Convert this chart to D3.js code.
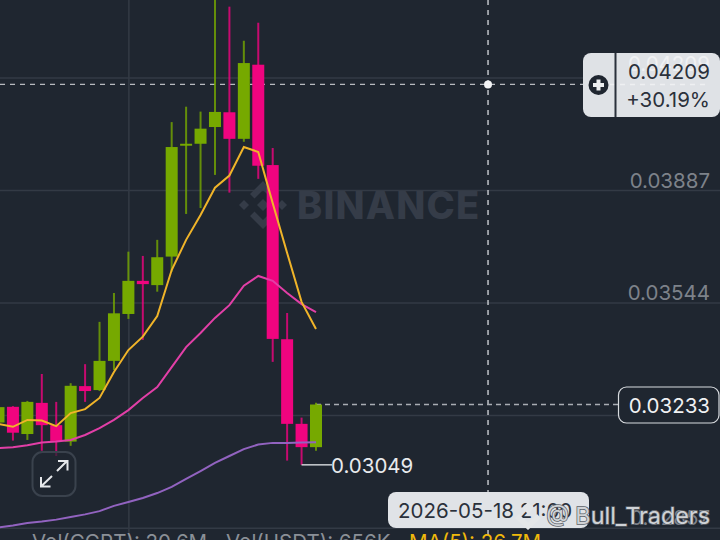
<!DOCTYPE html>
<meta charset="utf-8">
<style>
    html, body{ margin: 0; padding: 0; background: #1f2630; }
    svg{ display: block; }
    text{ font-family: Inter, "Open Sans", sans-serif; }
</style>
<script src="https://d3js.org/d3.v7.min.js"></script>
<body>
<div id="chart"></div>
<script>
    // candles, oldest first
    var opens  = [0.03178,0.03226,0.03143,0.03238,0.03170,0.03120,0.03289,0.03277,0.03366,0.03509,0.03610,0.03597,0.03684,0.04022,0.04028,0.04079,0.04124,0.04043,0.04269,0.03963,0.03432,0.03174,0.03103];
    var highs  = [0.03228,0.03228,0.03244,0.03326,0.03241,0.03298,0.03356,0.03485,0.03573,0.03699,0.03686,0.03735,0.04094,0.04141,0.04126,0.04527,0.04446,0.04342,0.04397,0.04015,0.03512,0.03193,0.03238];
    var lows   = [0.03170,0.03123,0.03125,0.03092,0.03076,0.03107,0.03241,0.03274,0.03338,0.03494,0.03430,0.03577,0.03638,0.03814,0.03832,0.03933,0.03879,0.04034,0.03921,0.03363,0.03062,0.03049,0.03092];
    var closes = [0.03225,0.03147,0.03241,0.03170,0.03122,0.03290,0.03274,0.03366,0.03511,0.03610,0.03600,0.03682,0.04018,0.04028,0.04074,0.04125,0.04043,0.04274,0.03961,0.03433,0.03174,0.03103,0.03233];

    var ma5  = [0.03174,0.03165,0.03186,0.03184,0.03167,0.03207,0.03219,0.03253,0.03332,0.03399,0.03440,0.03503,0.03643,0.03735,0.03811,0.03894,0.03931,0.04018,0.04003,0.03847,0.03695,0.03546,0.03463];
    var ma10 = [0.03100,0.03103,0.03109,0.03117,0.03120,0.03125,0.03140,0.03161,0.03186,0.03216,0.03253,0.03286,0.03347,0.03408,0.03451,0.03497,0.03536,0.03595,0.03625,0.03610,0.03573,0.03539,0.03515];
    var ma30 = [0.02858,0.02864,0.02872,0.02876,0.02882,0.02890,0.02898,0.02908,0.02924,0.02936,0.02948,0.02963,0.02982,0.03006,0.03030,0.03055,0.03076,0.03097,0.03111,0.03116,0.03116,0.03117,0.03118];

    var priceTicks = [0.04230,0.03887,0.03544,0.03201,0.02857];
    var priceLabels = ["", "0.03887", "0.03544", "", "0.02857"];
    var timeTicks = [9];

    var crossPrice = 0.04209, crossIndex = 33.92, crossPct = "+30.19%";
    var lastPrice = 0.03233, lowPrice = 0.03049, lowIndex = 21;
    var crossDate = "2026-05-18 21:00";
    var volLegend = [
        {t: "Vol(CGPT): 20.6M", c: "#8b9097"},
        {t: "Vol(USDT): 656K", c: "#8b9097"},
        {t: "MA(5): 26.7M", c: "#f0b90b"}
    ];

    var width = 720, height = 540;
    var up = "#76a900", down = "#f0047f", grid = "#333a45", bg = "#1f2630";

    var svg = d3.select("#chart").append("svg")
        .attr("width", width).attr("height", height)
        .style("background-color", bg);

    var x = d3.scaleLinear().domain([0, 22]).range([-1.5, 316]);
    var y = d3.scaleLinear().domain([0.03887, 0.03544]).range([190, 302.5]);

    // grid
    var yAxis = d3.axisRight(y).tickValues(priceTicks).tickSize(width)
        .tickFormat(function(d, i){ return priceLabels[i]; });
    var yG = svg.append("g").call(yAxis);
    yG.select(".domain").remove();
    yG.selectAll("line").attr("stroke", grid).attr("stroke-width", 1.5);
    yG.selectAll("text")
        .attr("x", 710).attr("dy", -3).attr("text-anchor", "end")
        .attr("font-size", 20.5).attr("fill", "#7d828a")
        .style("font-family", "Inter");

    var xAxis = d3.axisBottom(x).tickValues(timeTicks).tickSize(height).tickFormat("");
    var xG = svg.append("g").call(xAxis);
    xG.select(".domain").remove();
    xG.selectAll("line").attr("stroke", grid).attr("stroke-width", 1.5);

    // watermark
    var logo = svg.append("g").attr("transform", "translate(263,205)").attr("fill", "#353c48");
    var logoPaths = [
        "M0,-24 L13,-11 L8.5,-6.5 L0,-15 L-8.5,-6.5 L-13,-11 Z",
        "M0,24 L13,11 L8.5,6.5 L0,15 L-8.5,6.5 L-13,11 Z",
        "M-24,0 L-19,-5 L-14,0 L-19,5 Z",
        "M24,0 L19,-5 L14,0 L19,5 Z",
        "M0,-6 L6,0 L0,6 L-6,0 Z"
    ];
    logo.selectAll("path").data(logoPaths).join("path").attr("d", function(d){ return d; });
    svg.append("text").attr("x", 297).attr("y", 219).text("BINANCE")
        .attr("font-size", 38).attr("font-weight", 800).attr("fill", "#353c48")
        .attr("letter-spacing", 1.2);

    // crosshair and last price lines
    svg.append("line").attr("x1", x(crossIndex)).attr("x2", x(crossIndex)).attr("y1", 0).attr("y2", height)
        .attr("stroke", "#d8dbdf").attr("stroke-width", 1.3).attr("stroke-dasharray", "5 5");
    svg.append("line").attr("x1", 0).attr("x2", 590).attr("y1", y(crossPrice)).attr("y2", y(crossPrice))
        .attr("stroke", "#b8bbc0").attr("stroke-width", 1.3).attr("stroke-dasharray", "5 5");
    svg.append("line").attr("x1", x(22)).attr("x2", 620).attr("y1", y(lastPrice)).attr("y2", y(lastPrice))
        .attr("stroke", "#a9adb3").attr("stroke-width", 1.5).attr("stroke-dasharray", "5 4");
    svg.append("circle").attr("cx", x(crossIndex)).attr("cy", y(crossPrice)).attr("r", 4).attr("fill", "#f2f3f5");

    // candles
    var idx = d3.range(opens.length);
    function colour(i){ return closes[i] >= opens[i] ? up : down; }
    svg.append("g").selectAll("line").data(idx).join("line")
        .attr("x1", function(i){ return x(i); })
        .attr("x2", function(i){ return x(i); })
        .attr("y1", function(i){ return y(highs[i]); })
        .attr("y2", function(i){ return y(lows[i]); })
        .attr("stroke", colour).attr("stroke-width", 2).attr("stroke-opacity", 0.8);
    svg.append("g").selectAll("rect").data(idx).join("rect")
        .attr("x", function(i){ return x(i) - 6; })
        .attr("width", 12)
        .attr("y", function(i){ return y(Math.max(opens[i], closes[i])); })
        .attr("height", function(i){ return Math.max(1.5, Math.abs(y(opens[i]) - y(closes[i]))); })
        .attr("fill", colour);

    // moving averages
    var line = d3.line().x(function(d, i){ return x(i); }).y(function(d){ return y(d); });
    svg.append("path").attr("d", line(ma30)).attr("fill", "none").attr("stroke", "#9263c0").attr("stroke-width", 2);
    svg.append("path").attr("d", line(ma10)).attr("fill", "none").attr("stroke", "#e23fa7").attr("stroke-width", 2);
    svg.append("path").attr("d", line(ma5)).attr("fill", "none").attr("stroke", "#f0b429").attr("stroke-width", 2);

    // lowest price marker
    svg.append("line").attr("x1", x(lowIndex)).attr("x2", 332).attr("y1", y(lowPrice)).attr("y2", y(lowPrice))
        .attr("stroke", "#e8eaed").attr("stroke-width", 1.3);
    svg.append("text").attr("x", 331).attr("y", y(lowPrice) + 8).text(d3.format(".5f")(lowPrice))
        .attr("font-size", 20.5).attr("fill", "#e8eaed");

    // last price box
    svg.append("rect").attr("x", 618.5).attr("y", 387).attr("width", 100.5).attr("height", 36).attr("rx", 8)
        .attr("fill", bg).attr("stroke", "#d8dbdf").attr("stroke-width", 1.2);
    svg.append("text").attr("x", 710).attr("y", y(lastPrice) + 8).attr("text-anchor", "end")
        .text(d3.format(".5f")(lastPrice)).attr("font-size", 20.5).attr("fill", "#f0f1f3");

    // crosshair price panel
    svg.append("rect").attr("x", 583).attr("y", 53).attr("width", 137).attr("height", 64).attr("rx", 8).attr("fill", "#dfe2e6");
    svg.append("text").attr("x", 710).attr("y", 71).attr("text-anchor", "end").text(d3.format(".5f")(crossPrice))
        .attr("font-size", 20.5).attr("fill", "#f0f1f3");
    svg.append("line").attr("x1", 590).attr("x2", 708).attr("y1", y(crossPrice)).attr("y2", y(crossPrice))
        .attr("stroke", "#eef0f2").attr("stroke-width", 1.5).attr("stroke-dasharray", "5 5");
    svg.append("rect").attr("x", 614.5).attr("y", 53).attr("width", 2).attr("height", 64).attr("fill", "#2a313b");
    svg.append("circle").attr("cx", 598.5).attr("cy", 85).attr("r", 10).attr("fill", "#1f2630");
    svg.append("path").attr("d", "M598.5,79.5V90.5M593,85H604").attr("stroke", "#eceef0").attr("stroke-width", 4);
    svg.append("text").attr("x", 710).attr("y", 79).attr("text-anchor", "end").text(d3.format(".5f")(crossPrice))
        .attr("font-size", 20.5).attr("fill", "#2b313b");
    svg.append("text").attr("x", 710).attr("y", 107).attr("text-anchor", "end").text(crossPct)
        .attr("font-size", 20.5).attr("fill", "#2b313b");

    // expand button
    svg.append("rect").attr("x", 32.5).attr("y", 452).attr("width", 43).attr("height", 44).attr("rx", 10)
        .attr("fill", bg).attr("fill-opacity", 0.7).attr("stroke", "#3a424d").attr("stroke-width", 2);
    svg.append("path")
        .attr("d", "M41,486.5L52,476M57,471L67,461M58,461H67.5V470.5M41,477V486.5H50.5")
        .attr("fill", "none").attr("stroke", "#e6e8eb").attr("stroke-width", 2);

    // volume legend, cut by the bottom edge
    svg.append("g").selectAll("text").data(volLegend).join("text")
        .attr("x", function(d, i){ return [32, 226, 409][i]; })
        .attr("y", 549)
        .attr("font-size", 20.5)
        .attr("fill", function(d){ return d.c; })
        .text(function(d){ return d.t; });

    // date label
    svg.append("rect").attr("x", 388).attr("y", 492).attr("width", 201).attr("height", 36).attr("rx", 8).attr("fill", "#e0e3e7");
    svg.append("text").attr("x", 398).attr("y", 518).text(crossDate).attr("font-size", 20.5).attr("fill", "#2b313b");

    // overlay from the poster
    var mark = svg.append("g").attr("fill", "#d9dbde");
    mark.append("path").attr("d", "M528,502L534,508L528,514L522,508ZM519,514L528,523L537,514L541,518L528,530L515,518Z").attr("fill", "#e4e6e8");
    svg.append("text").attr("x", 710).attr("y", 524).attr("text-anchor", "end").text("@ Bull_Traders")
        .attr("font-size", 23.4).attr("fill", "#cfd2d6")
        .style("paint-order", "stroke").attr("stroke", "#5a5f66").attr("stroke-width", 1.5);
</script>
</body>
